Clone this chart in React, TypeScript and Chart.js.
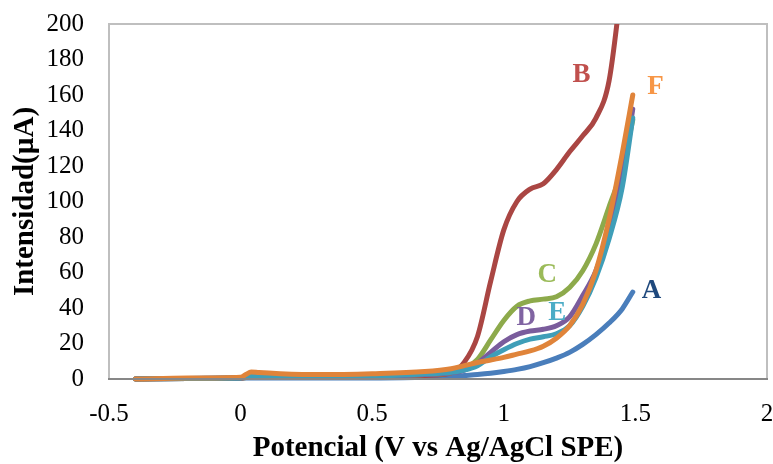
import React, { useEffect, useRef } from "react";
import { Chart, registerables } from "chart.js";

Chart.register(...registerables);

// Potential (V) sample positions shared by all curves
const potencial = [-0.4, -0.2, 0, 0.02, 0.04, 0.07, 0.15, 0.3, 0.5, 0.7, 0.8, 0.85, 0.9, 0.95, 1.0, 1.05, 1.1, 1.15, 1.2, 1.25, 1.3, 1.35, 1.4, 1.45, 1.49];

// Current (µA) for each curve
const serieA = [0, 0.3, 0.5, 0.5, 0.6, 0.6, 0.5, 0.5, 0.6, 1.0, 1.5, 2.0, 2.5, 3.2, 4.2, 5.4, 7.0, 9.2, 11.8, 15, 19.5, 25, 31.5, 39.5, 49];
const serieB = [0, 0.3, 0.5, 1.0, 1.5, 1.2, 1.0, 0.8, 1.0, 2.0, 3.5, 9.5, 24, 55, 84, 100, 107, 110, 118, 128, 137, 147, 168, 225, null];
const serieC = [0, 0.3, 0.5, 0.8, 1.2, 1.0, 0.8, 0.8, 1.2, 2.5, 3.5, 5.5, 11, 22, 33, 41, 44, 45, 46.3, 51.5, 61, 76, 97, 118.5, 146];
const serieD = [0, 0.3, 0.5, 0.8, 1.0, 1.0, 0.9, 0.9, 1.3, 2.5, 3.5, 5, 9, 15, 21, 25, 27, 28, 30, 35, 47, 61, 84, 114, 152];
const serieE = [0, 0.3, 0.6, 1.2, 2.0, 1.8, 1.5, 1.3, 1.6, 2.8, 3.8, 5, 7.5, 12.5, 16.5, 20, 22.5, 23.8, 25.5, 30, 41, 57, 79, 108, 147];
const serieF = [0, 0.5, 1.0, 2.5, 4.0, 3.6, 3.0, 2.5, 3.0, 4.2, 5.8, 7.5, 9.3, 10.7, 12.2, 14, 15.8, 18.5, 23, 30, 42, 61, 90, 127, 160];

const curveNames = ["A", "B", "C", "D", "E", "F"];
const lineColors = ["#4A7EBB", "#AA4643", "#8DAA4B", "#7A5C9C", "#3F9EB8", "#E0843A"];
const labelColors = ["#1F497D", "#C0504D", "#9BBB59", "#8064A2", "#4BACC6", "#F79646"];
const drawOrder = [5, 4, 3, 2, 1, 0];

// Curve label anchor positions (data space)
const labelX = [1.561, 1.295, 1.165, 1.085, 1.203, 1.576];
const labelY = [49.6, 171, 58.6, 34.4, 37.2, 164.5];

const xTicks = { min: -0.5, max: 2, step: 0.5 };
const yTicks = { min: 0, max: 200, step: 20 };

const serif = "'Liberation Serif', 'Times New Roman', serif";

export default function App() {
  const ref = useRef<HTMLCanvasElement | null>(null);

  useEffect(() => {
    if (!ref.current) return;
    const series = [serieA, serieB, serieC, serieD, serieE, serieF];
    const datasets = series.map((vals, i) => ({
      label: curveNames[i],
      data: potencial.map((x, j) => ({ x, y: vals[j] as number | null })),
      borderColor: lineColors[i],
      backgroundColor: lineColors[i],
      borderWidth: 5,
      pointRadius: 0,
      tension: 0.4,
      cubicInterpolationMode: "monotone" as const,
      borderCapStyle: "round" as const,
      borderJoinStyle: "round" as const,
      spanGaps: false,
      order: drawOrder[i],
      clip: { left: 5, right: 5, top: 0, bottom: 5 },
    }));

    const framePlugin = {
      id: "frame",
      beforeDatasetsDraw(chart: any) {
        const { ctx, chartArea } = chart;
        ctx.save();
        ctx.strokeStyle = "#BFBFBF";
        ctx.lineWidth = 2;
        ctx.strokeRect(chartArea.left, chartArea.top, chartArea.right - chartArea.left, chartArea.bottom - chartArea.top);
        ctx.restore();
      },
      afterDatasetsDraw(chart: any) {
        const { ctx, chartArea, scales } = chart;
        ctx.save();
        ctx.strokeStyle = "#878787";
        ctx.lineWidth = 2;
        ctx.beginPath();
        ctx.moveTo(chartArea.left - 1, chartArea.bottom);
        ctx.lineTo(chartArea.right + 1, chartArea.bottom);
        ctx.stroke();
        ctx.font = `bold 27px ${serif}`;
        ctx.textAlign = "center";
        ctx.textBaseline = "middle";
        curveNames.forEach((n, i) => {
          ctx.fillStyle = labelColors[i];
          ctx.fillText(n, scales.x.getPixelForValue(labelX[i]), scales.y.getPixelForValue(labelY[i]));
        });
        ctx.restore();
      },
    };

    const chart = new Chart(ref.current, {
      type: "line",
      data: { datasets },
      options: {
        animation: false,
        responsive: false,
        devicePixelRatio: 1,
        layout: { padding: { left: 0, top: 24, right: 6, bottom: 0 } },
        plugins: { legend: { display: false }, tooltip: { enabled: false } },
        scales: {
          x: {
            type: "linear",
            min: xTicks.min,
            max: xTicks.max,
            grid: { display: false, drawTicks: false },
            border: { display: false },
            ticks: {
              stepSize: xTicks.step,
              autoSkip: false,
              maxRotation: 0,
              padding: 20,
              color: "#000",
              font: { family: serif, size: 25 },
              callback: (v: any) => String(Math.round(Number(v) * 10) / 10),
            },
            title: {
              display: true,
              text: "Potencial (V vs Ag/AgCl SPE)",
              color: "#000",
              font: { family: serif, size: 29, weight: "bold", lineHeight: 1 },
              padding: { top: 0, bottom: 1 },
            },
            afterFit(scale: any) {
              scale.height = 85;
              scale.paddingLeft = 0;
              scale.paddingRight = 0;
            },
          },
          y: {
            type: "linear",
            min: yTicks.min,
            max: yTicks.max,
            grid: { display: false, drawTicks: false },
            border: { display: false },
            ticks: {
              stepSize: yTicks.step,
              autoSkip: false,
              padding: 25,
              color: "#000",
              font: { family: serif, size: 25 },
            },
            title: {
              display: true,
              text: "Intensidad(µA)",
              color: "#000",
              font: { family: serif, size: 29, weight: "bold", lineHeight: 1 },
              padding: { top: 11, bottom: 0 },
            },
            afterFit(scale: any) {
              scale.width = 109;
              scale.paddingTop = 0;
              scale.paddingBottom = 0;
            },
          },
        },
      },
      plugins: [framePlugin],
    });
    return () => chart.destroy();
  }, []);

  return (
    <div style={{ position: "fixed", left: 0, top: 0, width: 773, height: 464, background: "#fff" }}>
      <canvas ref={ref} width={773} height={464} style={{ display: "block", width: 773, height: 464 }} />
    </div>
  );
}
